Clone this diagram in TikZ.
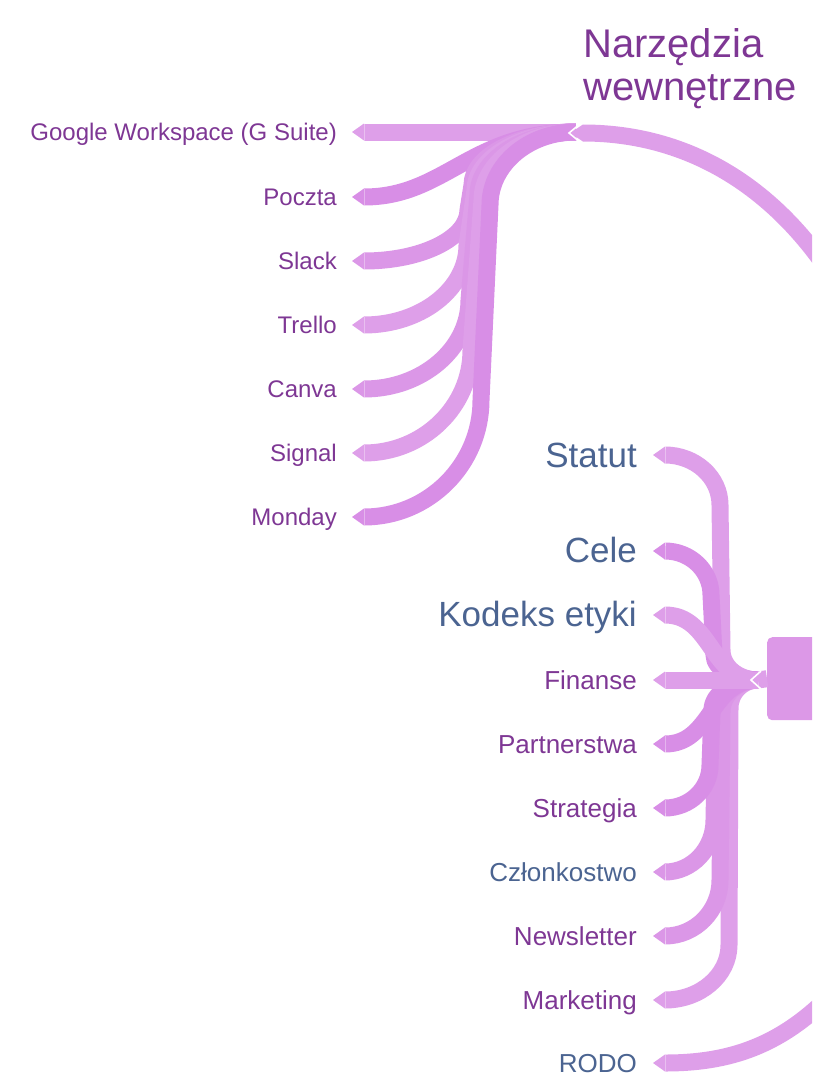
\documentclass[tikz,border=0pt]{standalone}
\usepackage{fontspec}
\setmainfont{Liberation Sans}
\definecolor{bl}{HTML}{DE9FE9}
\definecolor{bd}{HTML}{D88EE6}
\definecolor{bm}{HTML}{DB97E7}
\definecolor{boxc}{HTML}{DC98E7}
\definecolor{tp}{HTML}{7E3794}
\definecolor{tb}{HTML}{4B6491}
\tikzset{
  band/.style={line width=17pt, line cap=butt, line join=round},
  small/.style={font=\fontsize{24}{28}\selectfont, inner sep=0pt, anchor=base east},
  mid/.style={font=\fontsize{26}{30}\selectfont, inner sep=0pt, anchor=base east},
  big/.style={font=\fontsize{35}{40}\selectfont, inner sep=0pt, anchor=base east},
  huge/.style={font=\fontsize{40}{43}\selectfont, inner sep=0pt, anchor=base west, text=tp},
  chev/.style={white, line width=1.6pt, line cap=butt, line join=miter},
  tipline/.style={white, opacity=0.35, line width=0.6pt},
}
% left bundle branch: #1 end, #2 ey, #3 xv, #4 ya, #5 xv2, #6 yb, #7 colour
\newcommand\lbranch[7]{%
  \draw[band,#7] (lroot) .. controls ({#3+0.448*(576-#3)},132) and (#3,{132+0.448*(#4-132)}) .. (#3,#4)
    -- (#5,#6) .. controls (#5,{#6+0.552*(#2-#6)}) and ({364+0.552*(#5-364)},#2) .. (#1);}
% right bundle branch
\newcommand\rbranch[7]{%
  \draw[band,#7] (rroot) .. controls ({#3+0.448*(758-#3)},680) and (#3,{680+0.448*(#4-680)}) .. (#3,#4)
    -- (#5,#6) .. controls (#5,{#6+0.552*(#2-#6)}) and ({665+0.552*(#5-665)},#2) .. (#1);}
% tip at end point x=#1, y=#2, colour #3
\newcommand\tipL[3]{%
  \fill[#3] (#1,{#2-8.5}) -- ({#1-12},#2) -- (#1,{#2+8.5}) -- cycle;
  \draw[tipline] (#1,{#2-8.5}) -- (#1,{#2+8.5});}
\begin{document}
\begin{tikzpicture}[x=1pt,y=-1pt]
\useasboundingbox (0,0) rectangle (812,1087);
\clip (0,0) rectangle (812,1087);
% roots and ends
\coordinate (lroot) at (576,132);
\coordinate (rroot) at (758,680);
\coordinate (eGoogle) at (364,132);
\coordinate (ePoczta) at (364,197);
\coordinate (eSlack) at (364,261);
\coordinate (eTrello) at (364,325);
\coordinate (eCanva) at (364,389);
\coordinate (eSignal) at (364,453);
\coordinate (eMonday) at (364,517);
\coordinate (eStatut) at (665,455);
\coordinate (eCele) at (665,551);
\coordinate (eKodeks) at (665,615);
\coordinate (eFinanse) at (665,680);
\coordinate (ePartner) at (665,744);
\coordinate (eStrat) at (665,808);
\coordinate (eCzlonk) at (665,872);
\coordinate (eNews) at (665,936);
\coordinate (eMarket) at (665,1000);
\coordinate (eRodo) at (665,1063);
\coordinate (eNarz) at (583,133);
\coordinate (oTop) at (862,330);
\coordinate (oBot) at (862,958);
% central topic (cropped)
\node[fill=boxc, rounded corners=5pt, minimum width=70pt, minimum height=83pt, inner sep=0pt, anchor=north west] (centre) at (767,637) {};
% big branches from the centre
\draw[band,bl] (oTop) .. controls (800,200) and (700,133) .. (eNarz);
\draw[band,bl] (oBot) .. controls (800,1040) and (740,1063) .. (eRodo);
% left bundle
\draw[band,bl] (lroot) -- (eGoogle);
\draw[band,bd] (lroot) .. controls (470,132) and (445,197) .. (ePoczta);
\lbranch{eSlack}{261}{472}{185}{468}{210}{bm}
\lbranch{eTrello}{325}{475}{190}{467}{245}{bl}
\lbranch{eCanva}{389}{478}{195}{469}{300}{bm}
\lbranch{eSignal}{453}{482}{200}{471}{350}{bl}
\lbranch{eMonday}{517}{490}{205}{481}{400}{bd}
% right bundle
\rbranch{eStatut}{455}{722}{650}{720}{505}{bl}
\rbranch{eCele}{551}{714}{655}{711}{595}{bd}
\draw[band,bl] (rroot) .. controls (710,680) and (712,615) .. (eKodeks);
\rbranch{eMarket}{1000}{730}{708}{729}{945}{bl}
\rbranch{eNews}{936}{722}{712}{720}{880}{bm}
\rbranch{eCzlonk}{872}{716}{712}{714}{820}{bm}
\rbranch{eStrat}{808}{712}{710}{710}{765}{bd}
\draw[band,bd] (rroot) .. controls (710,680) and (712,744) .. (ePartner);
\draw[band,bl] (rroot) -- (eFinanse);
% link into the central topic
\draw[band,bl] (rroot) -- (centre.west);
\draw[chev] (761,671) -- (751,680) -- (761,689);
% tip of Narzędzia branch
\fill[bl] (583,124.5) -- (570,133) -- (583,141.5) -- cycle;
\draw[chev] (580,124) -- (569,133) -- (580,142);
% tips
\tipL{364}{132}{bl}
\tipL{364}{197}{bd}
\tipL{364}{261}{bm}
\tipL{364}{325}{bl}
\tipL{364}{389}{bm}
\tipL{364}{453}{bl}
\tipL{364}{517}{bd}
\tipL{665}{455}{bl}
\tipL{665}{551}{bd}
\tipL{665}{615}{bl}
\tipL{665}{680}{bl}
\tipL{665}{744}{bd}
\tipL{665}{808}{bd}
\tipL{665}{872}{bm}
\tipL{665}{936}{bm}
\tipL{665}{1000}{bl}
\tipL{665}{1063}{bl}
% labels
\node[huge] (narz1) at (583,57) {Narzędzia};
\node[huge] (narz2) at (583,100) {wewnętrzne};
\node[small,text=tp] (google) at (337,140.6) {Google Workspace (G Suite)};
\node[small,text=tp] (poczta) at (337,205.6) {Poczta};
\node[small,text=tp] (slack) at (337,269.6) {Slack};
\node[small,text=tp] (trello) at (337,333.6) {Trello};
\node[small,text=tp] (canva) at (337,397.6) {Canva};
\node[small,text=tp] (signal) at (337,461.6) {Signal};
\node[small,text=tp] (monday) at (337,525.6) {Monday};
\node[big,text=tb] (statut) at (637,467) {Statut};
\node[big,text=tb] (cele) at (637,562.5) {Cele};
\node[big,text=tb] (kodeks) at (637,626.5) {Kodeks etyki};
\node[mid,text=tp] (finanse) at (637,689.3) {Finanse};
\node[mid,text=tp] (partner) at (637,753.3) {Partnerstwa};
\node[mid,text=tp] (strat) at (637,817.3) {Strategia};
\node[mid,text=tb] (czlonk) at (637,881.3) {Członkostwo};
\node[mid,text=tp] (news) at (637,945.3) {Newsletter};
\node[mid,text=tp] (market) at (637,1009.3) {Marketing};
\node[mid,text=tb] (rodo) at (637,1072.3) {RODO};
\end{tikzpicture}
\end{document}
